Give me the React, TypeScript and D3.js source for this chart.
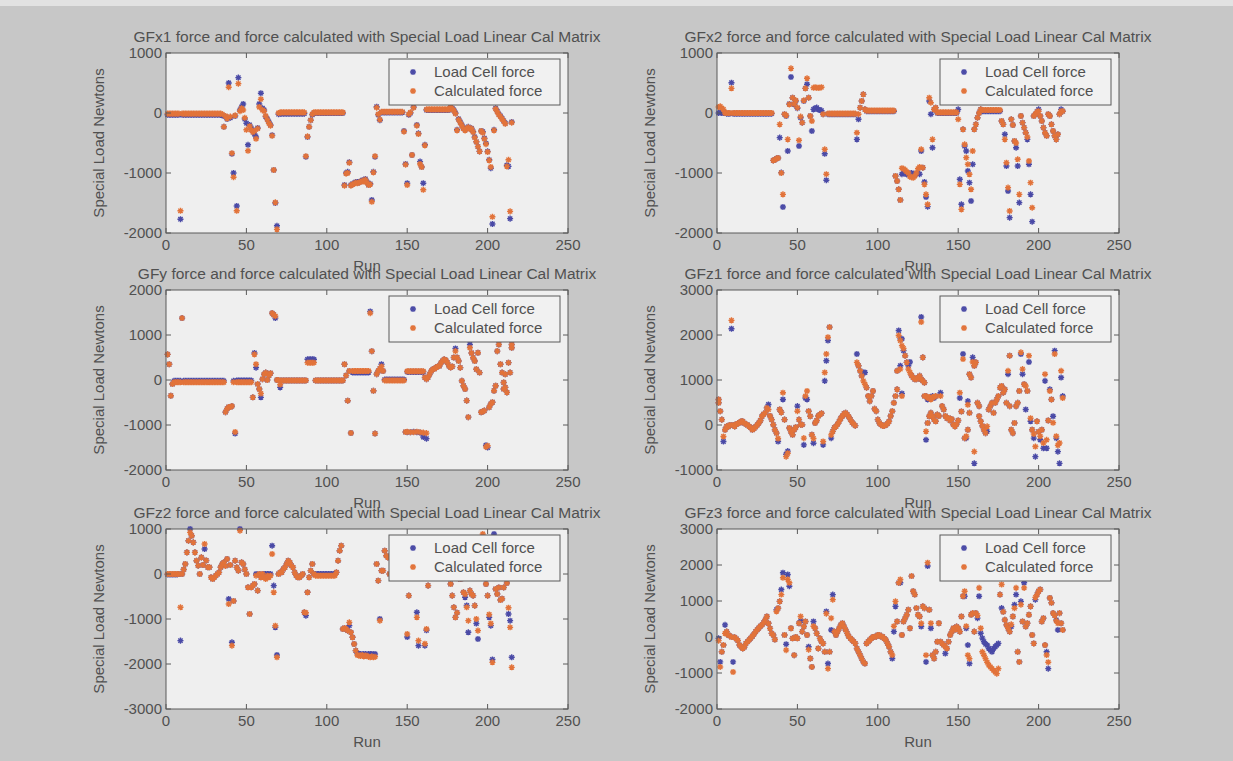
import React from 'react';
import * as d3 from 'd3';

// run axis and tick labels
const xTickValues = [0, 50, 100, 150, 200, 250];
const legendLabels = ['Load Cell force', 'Calculated force'];

// ---- GFx1 ----
const gfx1Load = [
  -30, -30, -30, -30, -30, -30, -30, -30, -1770, -30,
  -30, -30, -30, -30, -30, -30, -30, -30, -30, -30,
  -30, -30, -30, -30, -30, -30, -30, -30, -30, -30,
  -30, -30, -30, -30, -40, -230, -60, -100, 500, -80,
  -680, -1000, -50, -1550, 590, 50, 100, 150, -100, -170,
  -530, -200, -250, -300, -350, -400, -250, 150, 330, 80,
  50, -60, -100, -150, -200, -370, -950, -1500, -1880, -20,
  -10, -10, -10, -10, -10, -10, -10, -10, -10, -10,
  -10, -10, -10, -10, -10, -10, -730, -400, -230, -120,
  -30, 0, 0, 0, 0, 0, 0, 0, 0, 0,
  0, 0, 0, 0, 0, 0, 0, 0, 0, 0,
  -1200, -1000, -980, -820, -1200, -1180, -1170, -1150, -1150, -1160,
  -1140, -1120, -1130, -1100, -1150, -1200, -1180, -1450, -980, -730,
  105, -30, -120, 10, 10, 10, 10, 10, 10, 10,
  10, 10, 10, 10, 10, 10, 10, -300, -850, -1170,
  -30, 0, -700, 100, 200, -200, -340, -810, -900, -1170,
  -530, 50, 50, 50, 50, 50, 50, 50, 50, 50,
  50, 50, 50, 50, 50, 50, 100, 80, 50, 0,
  -280, -100, -150, -200, -250, -280, -250, -230, -260, -255,
  -310, -400, -480, -560, -640, -300, -310, -420, -505, -640,
  -780, -920, -1850, -280, 80, 30, -20, -50, -90, -130,
  -170, -870, -890, -1760, -150,
];
const gfx1Calc = [
  -10, -10, -10, -10, -10, -10, -10, -10, -1630, -10,
  -10, -10, -10, -10, -10, -10, -10, -10, -10, -10,
  -10, -10, -10, -10, -10, -10, -10, -10, -10, -10,
  -10, -10, -10, -10, -20, -230, -50, -90, 430, -60,
  -670, -1070, -40, -1630, 490, 30, 80, 50, -80, -280,
  -630, -220, -280, -320, -300, -430, -260, 100, 230, 50,
  30, -50, -110, -170, -210, -380, -950, -1490, -1940, 0,
  10, 10, 10, 10, 10, 10, 10, 10, 10, 10,
  10, 10, 10, 10, 10, 10, -720, -390, -230, -120,
  -20, 10, 10, 10, 10, 10, 10, 10, 10, 10,
  10, 10, 10, 10, 10, 10, 10, 10, 10, 10,
  -1210, -1010, -1000, -830, -1210, -1190, -1180, -1160, -1170, -1160,
  -1150, -1130, -1140, -1110, -1160, -1200, -1190, -1480, -990, -720,
  90, -20, -110, 20, 20, 20, 20, 20, 20, 20,
  20, 20, 20, 20, 20, 20, 20, -310, -860, -1200,
  -20, 10, -700, 90, 180, -210, -350, -850, -900, -1280,
  -540, 60, 60, 60, 60, 60, 60, 60, 60, 60,
  60, 60, 60, 60, 60, 60, 100, 70, 40, -10,
  -290, -110, -160, -210, -260, -290, -260, -240, -270, -260,
  -320, -410, -480, -560, -640, -300, -330, -430, -520, -650,
  -790, -900, -1730, -290, 70, 20, -30, -60, -100, -140,
  -180, -890, -780, -1640, -160,
];
const gfx1Extra: number[][] = [];

// ---- GFx2 ----
const gfx2Load = [
  0, 20, 0, 0, 0, -10, -10, -10, 505, -10,
  -10, -10, -10, -10, -10, -10, -10, -10, -10, -10,
  -10, -10, -10, -10, -10, -10, -10, -10, -10, -10,
  -10, -10, -10, -10, -790, -780, -760, -750, -410, -994,
  -1567, -20, -50, -633, 150, 600, 255, 144, 200, 80,
  -550, -78, -161, 200, 411, 480, 255, -50, -300, 60,
  80, 90, 60, 50, 40, -20, -680, -1120, -20, -20,
  -20, -20, -20, -20, -20, -20, -20, -20, -20, -20,
  -20, -20, -20, -20, -20, -20, -440, -105, 89, 200,
  311, 60, 30, 30, 30, 30, 30, 30, 30, 30,
  30, 30, 30, 30, 30, 30, 30, 30, 30, 30,
  -1050, -1133, -1272, -1450, -1020, -1000, -1010, -1020, -1030, -1010,
  -1000, -1020, -1040, -1010, -1000, -1020, -633, -911, -1150, -1400,
  -1560, 200, -20, -578, 60, 89, 0, 0, 0, 0,
  0, 0, 0, 0, 0, 0, 0, 0, 0, 60,
  -1105, -1522, -272, -550, -633, -967, -1161, -1467, -855, -272,
  -189, -78, 0, 60, 30, 30, 30, 30, 30, 30,
  30, 30, 30, 30, 30, 30, -133, -189, -355, -883,
  -1300, -1744, -105, -200, -467, -578, -883, -1494, -50, -161,
  -244, -328, -440, -855, -1356, -1811, -50, -20, 20, 60,
  -50, -133, -244, -328, -380, -20, -50, -189, -300, -380,
  -440, -355, -20, 60, 30,
];
const gfx2Calc = [
  100, 110, 80, 60, 0, 0, 0, 0, 411, 0,
  0, 0, 0, 0, 0, 0, 0, 0, 0, 0,
  0, 0, 0, 0, 0, 0, 0, 0, 0, 0,
  0, 0, 0, 0, -790, -780, -760, -750, -190, -1000,
  -1356, -20, -40, -440, 144, 744, 255, 150, 210, 90,
  -455, -60, -161, 210, 411, 578, 255, -50, -133, 420,
  430, 420, 420, 420, 430, -20, -605, -1020, -10, -10,
  -10, -10, -10, -10, -10, -10, -10, -10, -10, -10,
  -10, -10, -10, -10, -10, -10, -328, -20, 89, 200,
  311, 60, 40, 40, 40, 40, 40, 40, 40, 40,
  40, 40, 40, 40, 40, 40, 40, 40, 40, 40,
  -1050, -1133, -1272, -1450, -920, -930, -950, -980, -1000, -1060,
  -1070, -1080, -1050, -1000, -930, -900, -605, -911, -1190, -1356,
  -1522, 255, 172, -440, 60, 89, 10, 10, 10, 10,
  10, 10, 10, 10, 10, 10, 10, 10, 10, -105,
  -1189, -1606, -272, -522, -744, -855, -1022, -1272, -633, -272,
  -189, -78, 0, 60, 50, 50, 50, 50, 50, 50,
  50, 50, 50, 50, 50, 50, -133, -189, -440, -828,
  -1244, -1633, -105, -200, -467, -500, -772, -1356, -50, -161,
  -244, -328, -400, -800, -1161, -1578, -50, -20, 20, 30,
  -50, -133, -244, -328, -380, -20, -50, -189, -300, -380,
  -440, -355, -20, 30, 30,
];
const gfx2Extra: number[][] = [];

// ---- GFy ----
const gfyLoad = [
  570, 350, -350, -90, -20, -20, -20, -20, -20, 1376,
  -20, -20, -20, -20, -20, -20, -20, -20, -20, -20,
  -20, -20, -20, -20, -20, -20, -20, -20, -20, -20,
  -20, -20, -20, -20, -20, -20, -715, -640, -600, -600,
  -580, -20, -1190, -10, -10, -10, -10, -10, -10, -10,
  -10, -10, -10, -385, 600, 275, -90, -200, -385, 20,
  130, 165, 0, 100, 150, 1486, 1450, 1376, 0, 0,
  -165, -10, -10, -10, -10, -10, -10, -10, -10, -10,
  -10, -10, -10, -10, -10, -10, -10, 460, 460, 460,
  460, 460, -10, -10, -10, -10, -10, -10, -10, -10,
  -10, -10, -10, -10, -10, -10, -10, -10, -10, -10,
  350, 100, -460, 200, -1178, 170, 170, 170, 170, 170,
  170, 170, 170, 170, 170, 170, 1523, 640, -240, -1190,
  130, 200, 250, 350, 200, 10, 10, 10, 10, 10,
  10, 10, 10, 10, 10, 10, 10, 10, -1156, 180,
  180, 180, 180, 180, 180, 180, 180, 180, 180, 180,
  55, 20, 60, 130, 200, 240, 250, 280, 300, 310,
  380, 422, 460, 440, 385, 310, 280, 300, 500, 700,
  500, 422, 275, -18, -128, -200, -459, -826, 789, 600,
  495, 422, 239, 605, 165, -716, -700, -679, -1450, -1500,
  -605, -532, -495, -239, -128, 642, 789, 350, 165, -55,
  -165, -275, 385, 165, 716,
];
const gfyCalc = [
  570, 350, -350, -90, -50, -50, -50, -50, -50, 1376,
  -50, -50, -50, -50, -50, -50, -50, -50, -50, -50,
  -50, -50, -50, -50, -50, -50, -50, -50, -50, -50,
  -50, -50, -50, -50, -50, -50, -715, -640, -600, -600,
  -580, -50, -1156, -50, -50, -50, -50, -50, -50, -50,
  -50, -50, -50, -385, 570, 350, -90, -200, -300, 20,
  130, 165, 0, 100, 150, 1486, 1450, 1420, 0, 0,
  -100, -10, -10, -10, -10, -10, -10, -10, -10, -10,
  -10, -10, -10, -10, -10, -10, -10, 385, 385, 385,
  385, 385, -10, -10, -10, -10, -10, -10, -10, -10,
  -10, -10, -10, -10, -10, -10, -10, -10, -10, -10,
  350, 100, -460, 200, -1178, 200, 200, 200, 200, 200,
  200, 200, 200, 200, 200, 200, 1486, 640, -240, -1190,
  130, 200, 250, 300, 200, -10, -10, -10, -10, -10,
  -10, -10, -10, -10, -10, -10, -10, -10, -1156, 195,
  195, 195, 195, 195, 195, 195, 195, 195, 195, 195,
  55, 20, 60, 130, 200, 240, 250, 280, 300, 310,
  380, 422, 460, 440, 385, 310, 280, 300, 500, 642,
  500, 422, 275, -18, -128, -200, -459, -826, 716, 600,
  495, 422, 239, 605, 165, -716, -700, -679, -1486, -1460,
  -605, -532, -495, -239, -128, 642, 789, 350, 165, -55,
  -165, -275, 385, 165, 716,
];
const gfyExtra = [
  [150, -1160, -1150], [152, -1160, -1160], [154, -1150, -1160], [156, -1160, -1150],
  [158, -1170, -1160], [160, -1266, -1170], [162, -1303, -1180],
  [210, -200, -200], [211, 128, 128], [215, 789, 789],
];

// ---- GFz1 ----
const gfz1Load = [
  568, 307, 120, -366, -105, -30, -40, 0, 2138, 0,
  -30, 20, 30, 50, 82, 80, 40, 20, 0, -30,
  -60, -105, -80, -40, 0, 45, 100, 195, 240, 270,
  381, 456, 200, 120, 7, -105, -180, -366, 344, 280,
  568, 120, -650, -580, -67, -150, -217, -105, -50, 419,
  120, 7, 7, -441, 600, 568, 307, 194, -217, -404,
  45, 100, 200, 232, 260, -441, 980, 1428, 1877, 2176,
  -292, -142, -60, -30, 20, 80, 150, 200, 250, 269,
  230, 180, 120, 60, 20, -15, 1578, 1316, 1204, 1092,
  1166, 1166, 830, 643, 531, 643, 755, 359, 307, 120,
  45, 7, -20, -20, 0, 30, 82, 200, 307, 493,
  643, 792, 2100, 1914, 1914, 1652, 1540, 1391, 1316, 1400,
  1100, 1054, 1017, 1017, 1054, 1092, 1017, 980, 942, -329,
  45, 194, 269, 194, 120, 82, 232, 200, 718, 419,
  344, 200, 150, 157, 100, 130, 7, -30, 20, 100,
  600, 300, 1578, -292, -292, 531, 269, 1054, 1503, 1316,
  1391, 493, 419, 82, -20, -105, -180, -142, 344, 419,
  493, 269, 493, 568, 643, 830, 867, 718, 792, 493,
  1129, 419, -105, -180, 45, 419, 493, 755, 1578, 1129,
  905, 344, 755, 1400, 82, -105, -292, -703, 82, -150,
  -329, -105, -516, 980, -516, 100, 792, 568, 194, 1652,
  -292, -591, -852, 1054, 643,
];
const gfz1Calc = [
  568, 307, 120, -254, -105, -30, -40, 0, 2325, 0,
  -30, 20, 30, 50, 82, 80, 40, 20, 0, -30,
  -60, -105, -80, -40, 0, 45, 100, 195, 240, 270,
  381, 344, 200, 120, 7, -105, -180, -300, 344, 280,
  718, 120, -703, -628, -67, -150, -217, -105, -50, 307,
  120, 7, 7, -292, 643, 755, 307, 194, -217, -300,
  45, 100, 200, 232, 260, -366, 1166, 1578, 1951, 2176,
  -220, -142, -60, -30, 20, 80, 150, 200, 250, 269,
  230, 180, 120, 60, 20, -15, 1391, 1316, 1204, 1092,
  980, 905, 830, 643, 531, 643, 755, 359, 307, 120,
  45, 7, -20, -20, 0, 30, 82, 200, 307, 493,
  643, 792, 1989, 1877, 1765, 1700, 1540, 1391, 1241, 1166,
  1100, 1054, 1017, 1017, 1054, 1092, 1017, 980, 942, -142,
  45, 194, 269, 194, 120, 82, 232, 200, 643, 419,
  344, 200, 150, 157, 100, 130, 7, -30, 20, 100,
  718, 300, 1465, -292, -250, 450, 269, 1054, 1400, 1316,
  1391, 493, 419, 82, -20, -105, -180, -30, 344, 419,
  493, 269, 493, 568, 643, 830, 867, 718, 792, 493,
  1204, 419, -105, -180, 45, 419, 493, 755, 1615, 1241,
  905, 867, 755, 1540, 150, -105, -200, -479, 82, -150,
  -250, -105, -400, 1129, -329, 100, 755, 568, 50, 1578,
  -250, -450, -400, 1204, 600,
];
const gfz1Extra = [
  [1, 493, 493], [112, 1204, 1204], [114, 1316, 1241], [115, 700, 643],
  [127, 2400, 2288], [128, 1503, 1503], [129, 643, 643], [130, 643, 643],
  [131, 568, 600], [132, 600, 620], [133, 600, 568], [134, 643, 620],
  [135, 600, 620], [136, 643, 643], [156, -105, -105], [157, 1129, 1129],
  [160, -852, -591], [163, 194, 194], [182, 1540, 1540],
];

// ---- GFz2 ----
const gfz2Load = [
  -10, -10, -10, -10, -10, -10, -10, 0, -1481, 0,
  100, 222, 481, 740, 1000, 850, 703, 481, 296, 185,
  0, 370, 200, 555, 300, 150, 150, -74, -111, -74,
  -37, 0, 37, 150, 222, 259, 180, 333, -555, 200,
  -1518, -600, 296, 148, 74, 1000, 259, 222, 100, 0,
  -296, -888, -296, -259, -222, 0, -370, 0, -74, 0,
  0, 0, 0, 0, 0, 629, -259, -1185, -1800, 0,
  37, 37, 111, 148, 222, 296, 259, 185, 148, 37,
  -37, -74, -74, -40, 0, -852, -926, -407, -74, 74,
  222, 0, 0, 0, 0, 0, 0, 0, 0, 0,
  0, 0, 0, 0, 0, 37, 296, 518, 629, -1222,
  -1200, -1222, -1259, -1148, -1296, -1407, -1555, -1703, -1760, -1780,
  -1777, -1790, -1777, -1780, -1790, -1777, -1780, -1777, -1790, -1777,
  222, -148, -1000, 74, 74, 518, 407, 370, 0, 0,
  0, 0, 0, 0, 0, 0, 0, 0, 0, -1400,
  -481, 0, 0, 0, 0, -851, -1592, 0, 0, 0,
  -1592, -1250, -259, 0, 0, 0, 0, 0, 0, 0,
  0, 0, 0, 0, 0, 0, -222, -481, -740, -963,
  -860, -100, -100, -100, -407, -518, -700, -1296, -370, -444,
  -481, -703, -1100, -1444, 0, 200, 700, 500, -222, -481,
  -963, -1148, -1900, 888, -333, -444, -300, -578, -550, -300,
  0, -200, -888, -1037, -1851,
];
const gfz2Calc = [
  0, 0, 0, 0, 0, 0, 0, 0, -740, 0,
  100, 222, 481, 740, 926, 850, 703, 481, 296, 185,
  0, 370, 200, 666, 300, 150, 150, -74, -111, -74,
  -37, 0, 37, 150, 222, 259, 180, 333, -666, 200,
  -1592, -600, 296, 148, 74, 963, 259, 222, 100, 0,
  -296, -888, -296, -259, -222, -37, -370, 0, -74, 0,
  -74, -111, -37, -74, -37, 444, -407, -1150, -1851, 0,
  37, 37, 111, 148, 222, 296, 259, 185, 148, 37,
  -37, -74, -74, -40, 0, -852, -860, -407, -74, 74,
  222, 0, -37, -37, -37, -37, -37, -37, -37, -37,
  -37, -37, -37, -37, -37, 37, 296, 518, 629, -1222,
  -1200, -1222, -1259, -1074, -1296, -1407, -1555, -1703, -1800, -1814,
  -1820, -1800, -1830, -1814, -1820, -1840, -1851, -1830, -1851, -1840,
  222, -148, -1037, 74, 74, 518, 407, 370, 0, 0,
  0, 0, 0, 0, 0, 0, 0, 0, 0, -1333,
  -481, 0, 0, 0, 0, -963, -1481, 0, 0, 0,
  -1550, -1222, -259, 0, 0, 0, 0, 0, 0, 0,
  0, 0, 0, 0, 0, 0, -222, -481, -740, -963,
  -860, -100, -100, -100, -407, -450, -740, -1037, -370, -444,
  -481, -703, -1000, -1259, 0, 200, 888, 500, -222, -481,
  -900, -1100, -1963, 700, -333, -444, -300, -578, -550, -300,
  0, -200, -750, -1185, -2074,
];
const gfz2Extra: number[][] = [];

// ---- GFz3 ----
const gfz3Load = [
  -37, -692, -411, -224, 336, 150, 56, 30, 0, -692,
  -10, -50, -100, -224, -270, -318, -280, -178, -130, -80,
  -30, 20, 80, 150, 200, 250, 300, 336, 400, 477,
  570, 380, 240, 100, 56, -70, 757, 800, 990, 1318,
  1785, 56, -200, 1738, 1411, 243, -37, -505, 0, -37,
  383, 450, 150, 290, 430, 56, -271, -598, -832, 430,
  243, 100, -318, -37, -130, -178, -411, 710, -738, -411,
  196, 1178, 150, 56, 150, 243, 336, 383, 290, 196,
  100, 9, -37, -84, -130, -178, -318, -411, -505, -600,
  -692, -738, -178, -131, -84, -37, 0, 9, 9, 56,
  56, 9, 9, -37, -84, -178, -271, -411, -598, 150,
  850, 430, 1505, 1505, 56, 430, 523, 617, 757, 243,
  1692, 1271, 1178, 804, 617, 570, 290, 850, 800, -692,
  1972, 757, 243, -505, -598, -411, -131, 383, -131, -178,
  -224, -458, -318, -131, 56, 150, 243, 200, 290, 243,
  150, 570, 1131, 1131, 243, -224, -738, 617, 664, 150,
  664, 523, 1131, 103, -30, -131, -200, -224, -318, -364,
  -411, -318, -271, -224, -178, 1178, 804, 700, 477, 336,
  243, 150, 290, 570, 897, 1178, -411, -692, 990, 430,
  1505, 290, 383, 617, 850, 56, -178, 1037, 1178, 1271,
  1320, 430, 523, -224, -411, -878, 1084, 950, 664, 600,
  477, 196, 664, 383, 196,
];
const gfz3Calc = [
  -100, -832, -411, -224, 100, 150, 56, 30, 0, -972,
  -10, -50, -100, -224, -270, -318, -280, -178, -130, -80,
  -30, 20, 80, 150, 200, 250, 300, 336, 400, 477,
  570, 380, 240, 100, 56, -70, 710, 800, 990, 1178,
  1645, 56, -364, 1600, 1505, 243, -37, -505, 0, -37,
  383, 570, 150, 290, 430, 56, -350, -598, -832, 300,
  243, 100, -318, -37, -130, -178, -411, 650, -878, -411,
  523, 1037, 150, 56, 150, 243, 336, 383, 290, 196,
  100, 9, -37, -84, -130, -178, -318, -411, -505, -600,
  -692, -738, -178, -131, -84, -37, 0, 9, 9, 56,
  56, 9, 9, -37, -84, -178, -271, -411, -500, 300,
  990, 430, 1505, 1598, 56, 430, 523, 617, 757, 243,
  1692, 1271, 1178, 804, 617, 570, 380, 850, 800, -505,
  2065, 757, 383, -505, -598, -411, -131, 383, -131, -178,
  -224, -271, -318, -131, 56, 150, 243, 200, 290, 243,
  150, 570, 1131, 1271, 300, -505, -600, 617, 664, 150,
  664, 600, 1364, 243, -411, -505, -600, -700, -780, -832,
  -878, -925, -972, -1018, -878, 1178, 1458, 700, 477, 336,
  243, 150, 350, 570, 800, 1364, -411, -692, 900, 430,
  1364, 290, 383, 617, 850, 56, -178, 1100, 1178, 1271,
  1320, 430, 523, -224, -500, -700, 1084, 950, 664, 600,
  450, 383, 664, 383, 196,
];
const gfz3Extra: number[][] = [];

// y tick labels per panel
const ticksX1 = [-2000, -1000, 0, 1000];
const ticksY = [-2000, -1000, 0, 1000, 2000];
const ticksZ1 = [-1000, 0, 1000, 2000, 3000];
const ticksZ2 = [-3000, -2000, -1000, 0, 1000];
const ticksZ3 = [-2000, -1000, 0, 1000, 2000, 3000];

const titles = [
  'GFx1 force and force calculated with Special Load Linear Cal Matrix',
  'GFx2 force and force calculated with Special Load Linear Cal Matrix',
  'GFy force and force calculated with Special Load Linear Cal Matrix',
  'GFz1 force and force calculated with Special Load Linear Cal Matrix',
  'GFz2 force and force calculated with Special Load Linear Cal Matrix',
  'GFz3 force and force calculated with Special Load Linear Cal Matrix',
];

const panels = [
  { title: titles[0], load: gfx1Load, calc: gfx1Calc, extra: gfx1Extra, ticks: ticksX1, col: 0, row: 0 },
  { title: titles[1], load: gfx2Load, calc: gfx2Calc, extra: gfx2Extra, ticks: ticksX1, col: 1, row: 0 },
  { title: titles[2], load: gfyLoad, calc: gfyCalc, extra: gfyExtra, ticks: ticksY, col: 0, row: 1 },
  { title: titles[3], load: gfz1Load, calc: gfz1Calc, extra: gfz1Extra, ticks: ticksZ1, col: 1, row: 1 },
  { title: titles[4], load: gfz2Load, calc: gfz2Calc, extra: gfz2Extra, ticks: ticksZ2, col: 0, row: 2 },
  { title: titles[5], load: gfz3Load, calc: gfz3Calc, extra: gfz3Extra, ticks: ticksZ3, col: 1, row: 2 },
];

const W = 1233;
const H = 761;
const COLS = [[166, 568], [717, 1119]];
const ROWS = [53, 290, 529];
const PLOT_H = 180;
const BLUE = '#4a4aa6';
const ORANGE = '#e2733a';
const TEXT = '#505050';
const FONT = '"Liberation Sans", Arial, sans-serif';

// MATLAB style '*' marker: a plus and a cross on top of each other
const star = d3.symbol(d3.symbolPlus, 14)() + d3.symbol(d3.symbolTimes, 14)();

function Panel({ p }: { p: typeof panels[number] }) {
  const [x0, x1] = COLS[p.col];
  const top = ROWS[p.row];
  const bottom = top + PLOT_H;
  const x = d3.scaleLinear().domain([0, 250]).range([x0, x1]);
  const y = d3.scaleLinear().domain(d3.extent(p.ticks) as [number, number]).range([bottom, top]);
  const cx = (x0 + x1) / 2;

  const loadPts = p.load.map((v, i) => [i + 1, v]).concat(p.extra.map(e => [e[0], e[1]]));
  const calcPts = p.calc.map((v, i) => [i + 1, v]).concat(p.extra.map(e => [e[0], e[2]]));

  const legX = x1 - 179;
  const legY = top + 6;
  const tick = 5;

  return (
    <g>
      <rect x={x0} y={top} width={x1 - x0} height={PLOT_H} fill="#efefef" />
      <g stroke={BLUE} strokeWidth={1.4} fill="none">
        {loadPts.map((d, i) => (
          <path key={i} d={star} transform={`translate(${x(d[0])},${y(d[1])})`} />
        ))}
      </g>
      <g stroke={ORANGE} strokeWidth={1.4} fill="none">
        {calcPts.map((d, i) => (
          <path key={i} d={star} transform={`translate(${x(d[0])},${y(d[1])})`} />
        ))}
      </g>
      <rect x={x0} y={top} width={x1 - x0} height={PLOT_H} fill="none" stroke="#5a5a5a" strokeWidth={1} />
      <g stroke="#5a5a5a" strokeWidth={1}>
        {xTickValues.map(t => (
          <g key={t}>
            <line x1={x(t)} x2={x(t)} y1={bottom} y2={bottom - tick} />
            <line x1={x(t)} x2={x(t)} y1={top} y2={top + tick} />
          </g>
        ))}
        {p.ticks.map(t => (
          <g key={t}>
            <line x1={x0} x2={x0 + tick} y1={y(t)} y2={y(t)} />
            <line x1={x1} x2={x1 - tick} y1={y(t)} y2={y(t)} />
          </g>
        ))}
      </g>
      <g fill={TEXT} fontFamily={FONT} fontSize={15}>
        {xTickValues.map(t => (
          <text key={t} x={x(t)} y={bottom + 17} textAnchor="middle">{t}</text>
        ))}
        {p.ticks.map(t => (
          <text key={t} x={x0 - 4} y={y(t) + 5} textAnchor="end">{t}</text>
        ))}
        <text x={cx} y={bottom + 38} textAnchor="middle">Run</text>
        <text
          transform={`translate(${x0 - 62},${(top + bottom) / 2}) rotate(-90)`}
          textAnchor="middle"
        >
          Special Load Newtons
        </text>
        <text x={cx} y={top - 11} textAnchor="middle" fontSize={15.5}>{p.title}</text>
      </g>
      <g>
        <rect x={legX} y={legY} width={171} height={46} fill="#f1f1f1" stroke="#5a5a5a" strokeWidth={1} />
        {legendLabels.map((lab, i) => (
          <g key={lab}>
            <path
              d={star}
              transform={`translate(${legX + 24},${legY + 13 + i * 19})`}
              stroke={i === 0 ? BLUE : ORANGE}
              strokeWidth={1.4}
              fill="none"
            />
            <text x={legX + 45} y={legY + 18 + i * 19} fill={TEXT} fontFamily={FONT} fontSize={15}>
              {lab}
            </text>
          </g>
        ))}
      </g>
    </g>
  );
}

export default function App() {
  return (
    <svg
      width={W}
      height={H}
      style={{ position: 'absolute', left: 0, top: 0, display: 'block' }}
    >
      <rect width={W} height={H} fill="#c7c7c7" />
      <rect width={W} height={6} fill="#e2e2e2" />
      {panels.map((p, i) => (
        <Panel key={i} p={p} />
      ))}
    </svg>
  );
}
